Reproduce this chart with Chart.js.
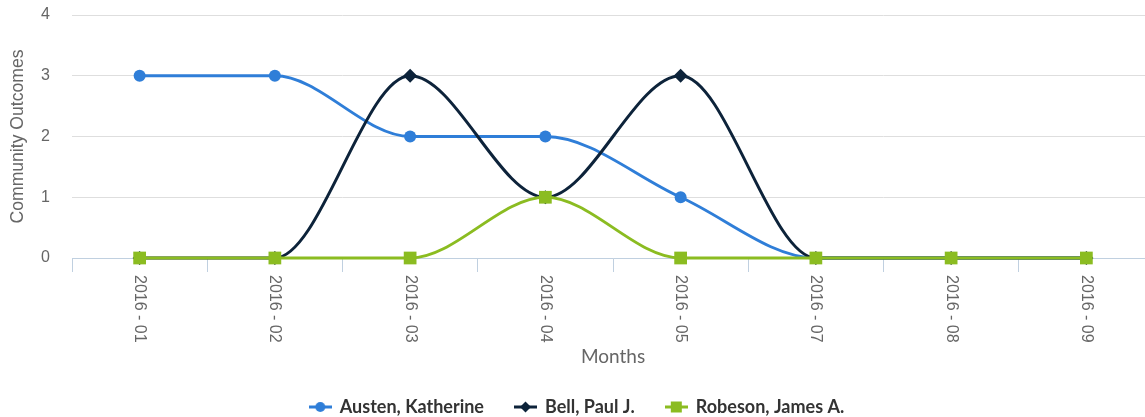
<!DOCTYPE html>
<html>
<head>
<meta charset="utf-8">
<script src="https://cdn.jsdelivr.net/npm/chart.js@4.4.1/dist/chart.umd.min.js"></script>
<style>
  html, body { margin: 0; padding: 0; background: #fff; overflow: hidden; }
  #wrap { width: 1145px; height: 417px; overflow: hidden; }
  canvas { display: block; }
</style>
</head>
<body>
<div id="wrap"><canvas id="c" width="1165" height="426"></canvas></div>
<script>
const categories = ['2016 - 01', '2016 - 02', '2016 - 03', '2016 - 04', '2016 - 05', '2016 - 07', '2016 - 08', '2016 - 09'];
const austen  = [3, 3, 2, 2, 1, 0, 0, 0];
const bell    = [0, 0, 3, 1, 3, 0, 0, 0];
const robeson = [0, 0, 0, 1, 0, 0, 0, 0];
const yTicks  = [0, 1, 2, 3, 4];
const seriesNames = ['Austen, Katherine', 'Bell, Paul J.', 'Robeson, James A.'];

const COLORS = ['#2f7ed8', '#0d233a', '#8bbc21'];
const STYLES = ['circle', 'rectRot', 'rect'];
const RADII = [6, 7, 9];

function legendIcon(color, style) {
  const c = document.createElement('canvas');
  c.width = 23; c.height = 14;
  const g = c.getContext('2d');
  g.strokeStyle = color; g.lineWidth = 3;
  g.beginPath(); g.moveTo(0, 7); g.lineTo(23, 7); g.stroke();
  g.fillStyle = color;
  g.beginPath();
  if (style === 'circle') { g.arc(11.5, 7, 5, 0, Math.PI * 2); }
  else if (style === 'rectRot') { g.moveTo(11.5, 1.5); g.lineTo(17, 7); g.lineTo(11.5, 12.5); g.lineTo(6, 7); g.closePath(); }
  else { g.rect(6, 1.5, 11, 11); }
  g.fill();
  return c;
}
const icons = COLORS.map((c, i) => legendIcon(c, STYLES[i]));

const xLabelPlugin = {
  id: 'xLabels',
  afterDraw(chart) {
    const xs = chart.scales.x;
    const ctx = chart.ctx;
    ctx.save();
    ctx.font = '16px "Liberation Sans", Arial, sans-serif';
    ctx.fillStyle = '#666666';
    ctx.textAlign = 'left';
    ctx.textBaseline = 'middle';
    xs.ticks.forEach((t, i) => {
      const x = xs.getPixelForTick(i);
      ctx.save();
      ctx.translate(x, xs.top + 17);
      ctx.rotate(Math.PI / 2);
      ctx.fillText(xs.getLabelForValue(t.value), 0, 0);
      ctx.restore();
    });
    ctx.restore();
  }
};

const series = [austen, bell, robeson];
const datasets = series.map((d, i) => ({
  label: seriesNames[i],
  data: d,
  borderColor: COLORS[i],
  backgroundColor: COLORS[i],
  borderWidth: 3,
  pointStyle: STYLES[i],
  pointRadius: RADII[i],
  pointHoverRadius: RADII[i],
  pointBorderWidth: 0,
  pointBackgroundColor: COLORS[i],
  cubicInterpolationMode: 'monotone',
  fill: false,
  clip: false,
  order: 3 - i
}));

const defaultGen = Chart.defaults.plugins.legend.labels.generateLabels;

new Chart(document.getElementById('c'), {
  type: 'line',
  data: { labels: categories, datasets },
  plugins: [xLabelPlugin],
  options: {
    responsive: false,
    animation: false,
    devicePixelRatio: 1,
    layout: { autoPadding: false, padding: { top: 15, right: 11, bottom: 0, left: 0 } },
    plugins: {
      tooltip: { enabled: false },
      legend: {
        position: 'bottom',
        labels: {
          usePointStyle: true,
          pointStyleWidth: 21,
          padding: 31,
          color: '#333333',
          font: { family: 'Lato, "Open Sans", sans-serif', size: 18, weight: 'bold' },
          sort: (a, b) => a.datasetIndex - b.datasetIndex,
          generateLabels(chart) {
            const items = defaultGen(chart);
            items.forEach(it => { it.pointStyle = icons[it.datasetIndex]; it.lineWidth = 0; });
            return items;
          }
        }
      }
    },
    scales: {
      x: {
        offset: true,
        grid: {
          offset: true,
          drawOnChartArea: false,
          drawTicks: true,
          tickLength: 14,
          color: '#c0d0e0',
          lineWidth: 1
        },
        border: { display: true, color: '#c0d0e0', width: 1 },
        ticks: { display: false },
        title: {
          display: true,
          text: 'Months',
          color: '#666666',
          font: { family: 'Lato, "Open Sans", sans-serif', size: 19 },
          padding: { top: 0, bottom: -1.4 }
        },
        afterFit(s) { s.height = 109; }
      },
      y: {
        min: 0,
        max: 4,
        afterBuildTicks(s) { s.ticks = yTicks.map(v => ({ value: v })); },
        grid: { color: '#dedede', lineWidth: 1, drawTicks: true, tickLength: 19, tickColor: 'rgba(0,0,0,0)' },
        border: { display: false },
        ticks: {
          padding: 3,
          color: '#666666',
          font: { family: '"Liberation Sans", Arial, sans-serif', size: 16 }
        },
        title: {
          display: true,
          text: 'Community Outcomes',
          color: '#666666',
          font: { family: '"Liberation Sans", Arial, sans-serif', size: 17.6 },
          padding: { top: 7.5, bottom: 0 }
        },
        afterFit(s) { s.width = 72; }
      }
    }
  }
});
</script>
</body>
</html>
